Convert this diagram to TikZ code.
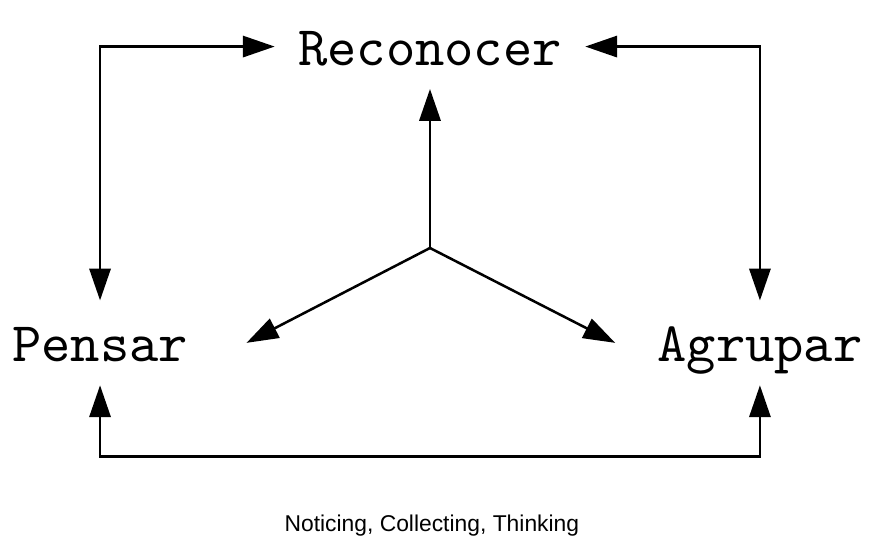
\documentclass[tikz,border=0pt]{standalone}
\usepackage{fontspec}
\newfontfamily\captionfont{Liberation Sans}
\newfontfamily\stagefont{lmmono10-regular.otf}
\usetikzlibrary{arrows.meta}

\begin{document}
\begin{tikzpicture}[
    >={Triangle[length=24pt,width=16pt]},
    link/.style={line width=1.9pt},
    stage/.style={font=\stagefont\fontsize{42}{50}\selectfont, text height=28.5pt, text depth=0pt, inner sep=17.5pt}
  ]
  \useasboundingbox (-11.377,-7.805) rectangle (11.933,6.562);

  % the three stages
  \node[stage] (reconocer) at (0,5.33) {Reconocer};
  \node[stage, inner xsep=43.9pt] (pensar) at (-8.73,-2.51) {Pensar};
  \node[stage, inner xsep=31.6pt] (agrupar) at (8.73,-2.51) {Agrupar};
  \coordinate (hub) at (0,0);
  \coordinate (bottom) at (0,-5.52);

  % from the hub out
  \draw[link,->] (hub) -- (reconocer.south);
  \draw[link,->] (hub) -- (pensar.east);
  \draw[link,->] (hub) -- (agrupar.west);

  % round the outside
  \draw[link,<->] (reconocer.west) -| (pensar.north);
  \draw[link,<->] (reconocer.east) -| (agrupar.north);
  \draw[link,<->] (pensar.south) -- (pensar.south |- bottom) -| (agrupar.south);

  % caption
  \node[font=\captionfont\fontsize{17.2}{20}\selectfont, anchor=base] (caption) at (0.05,-7.51) {Noticing, Collecting, Thinking};
\end{tikzpicture}
\end{document}
